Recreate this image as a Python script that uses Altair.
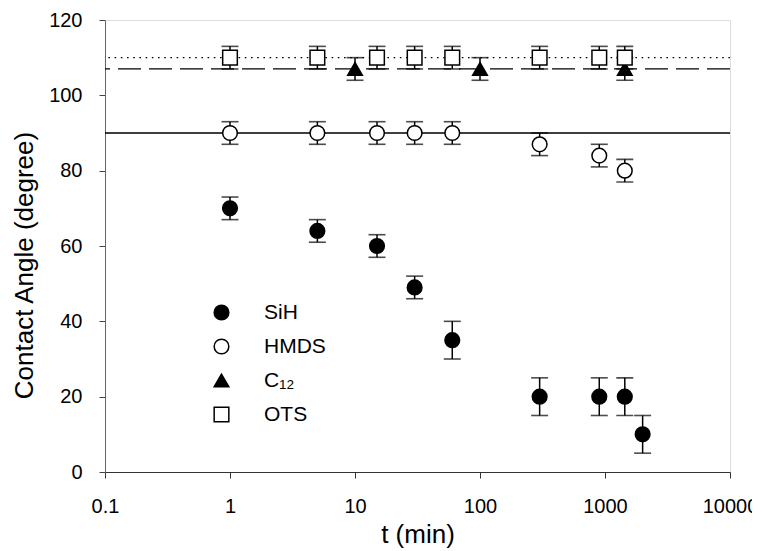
import altair as alt
import pandas as pd

FONT = "Liberation Sans"

# ---- data ----
sih_t = [1, 5, 15, 30, 60, 300, 900, 1440, 2000]
sih_angle = [70, 64, 60, 49, 35, 20, 20, 20, 10]
sih_err = [3, 3, 3, 3, 5, 5, 5, 5, 5]

hmds_t = [1, 5, 15, 30, 60, 300, 900, 1440]
hmds_angle = [90, 90, 90, 90, 90, 87, 84, 80]
hmds_err = [3, 3, 3, 3, 3, 3, 3, 3]

c12_t = [10, 100, 1440]
c12_angle = [107, 107, 107]
c12_err = [3, 3, 3]

ots_t = [1, 5, 15, 30, 60, 300, 900, 1440]
ots_angle = [110, 110, 110, 110, 110, 110, 110, 110]
ots_err = [3, 3, 3, 3, 3, 3, 3, 3]

series_names = ["SiH", "HMDS", "C\u2081\u2082", "OTS"]
ref_series = ["OTS", "C\u2081\u2082", "HMDS"]
ref_levels = [110, 107, 90]

x_ticks = [0.1, 1, 10, 100, 1000, 10000]
y_ticks = [0, 20, 40, 60, 80, 100, 120]

rows = []
for name, ts, vs, es in zip(series_names,
                            [sih_t, hmds_t, c12_t, ots_t],
                            [sih_angle, hmds_angle, c12_angle, ots_angle],
                            [sih_err, hmds_err, c12_err, ots_err]):
    for t, v, e in zip(ts, vs, es):
        rows.append({"t": t, "angle": v, "lo": v - e, "hi": v + e, "series": name})
df = pd.DataFrame(rows)
ref_df = pd.DataFrame({"series": ref_series, "level": ref_levels})

xscale = alt.Scale(type="log", domain=[0.1, 10000])
yscale = alt.Scale(domain=[0, 120], nice=False, zero=False)

xaxis = alt.Axis(values=x_ticks, format="~g", title="t (min)", grid=False,
                 labelFontSize=20, titleFontSize=26, titleFontWeight="normal",
                 labelPadding=18, titlePadding=5, tickSize=6, labelFlush=False,
                 labelFont=FONT, titleFont=FONT, labelColor="black", titleColor="black",
                 domainColor="#333", tickColor="#333")
yaxis = alt.Axis(values=y_ticks, title="Contact Angle (degree)", grid=False,
                 labelFontSize=20, titleFontSize=26, titleFontWeight="normal",
                 labelPadding=17, titlePadding=11, tickSize=6, titleY=245,
                 labelFont=FONT, titleFont=FONT, labelColor="black", titleColor="black",
                 domainColor="#666", tickColor="#444")

base = alt.Chart(df)

ref = alt.Chart(ref_df).mark_rule(color="black", strokeWidth=1.3).encode(
    y=alt.Y("level:Q", scale=yscale, axis=yaxis),
    strokeDash=alt.StrokeDash("series:N",
                              scale=alt.Scale(domain=ref_series,
                                              range=[[1.6, 4.6], [23, 8], [1, 0]]),
                              legend=None),
)

bars = base.mark_rule(color="black", strokeWidth=1.5).encode(
    x=alt.X("t:Q", scale=xscale, axis=xaxis),
    y=alt.Y("lo:Q", scale=yscale),
    y2="hi:Q",
)
cap_lo = base.mark_tick(orient="horizontal", size=17, thickness=1.6, color="black").encode(
    x=alt.X("t:Q", scale=xscale), y=alt.Y("lo:Q", scale=yscale))
cap_hi = base.mark_tick(orient="horizontal", size=17, thickness=1.6, color="black").encode(
    x=alt.X("t:Q", scale=xscale), y=alt.Y("hi:Q", scale=yscale))


def make_legend():
    return alt.Legend(title=None, orient="none", legendX=106, legendY=282,
                      labelFontSize=21, labelFont=FONT, labelColor="black",
                      symbolSize=215, symbolStrokeWidth=1.5, labelOffset=32,
                      rowPadding=12, padding=0)


points = base.mark_point(filled=True, strokeWidth=1.5,
                         opacity=1, fillOpacity=1, size=215).encode(
    x=alt.X("t:Q", scale=xscale),
    y=alt.Y("angle:Q", scale=yscale),
    shape=alt.Shape("series:N",
                    scale=alt.Scale(domain=series_names,
                                    range=["circle", "circle", "triangle-up", "square"]),
                    legend=make_legend()),
    fill=alt.Fill("series:N",
                  scale=alt.Scale(domain=series_names,
                                  range=["black", "white", "black", "white"]),
                  legend=make_legend()),
    stroke=alt.Stroke("series:N",
                      scale=alt.Scale(domain=series_names,
                                      range=["black", "black", "black", "black"]),
                      legend=make_legend()),
)

chart = alt.layer(ref, bars, cap_lo, cap_hi, points).properties(
    width=625, height=452,
    padding={"left": 97, "top": 12, "right": 22, "bottom": 79},
    autosize=alt.AutoSizeParams(type="none"),
).configure_view(stroke="#555", strokeWidth=1.3).configure(background="white")

chart.save("out.html", embed_options={"renderer": "svg", "actions": False})
